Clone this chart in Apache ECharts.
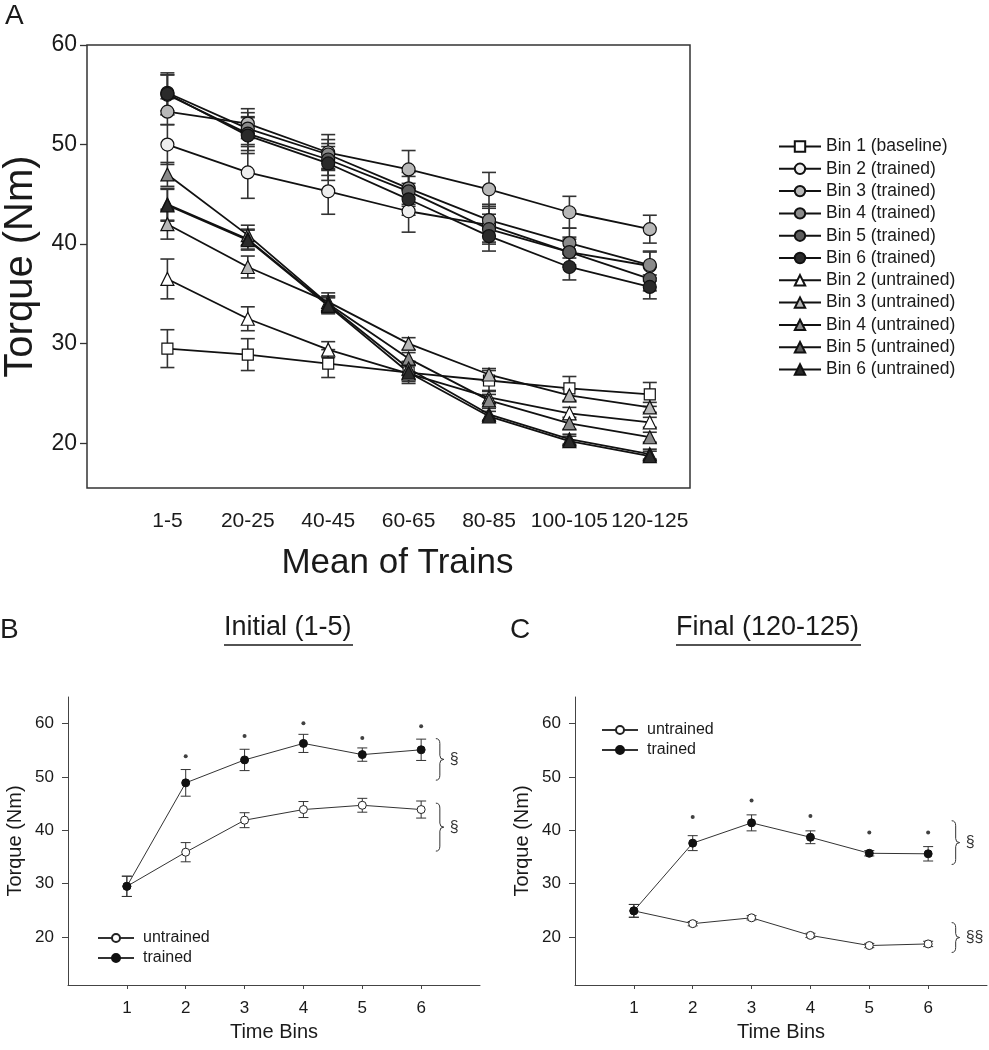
<!DOCTYPE html>
<html><head><meta charset="utf-8">
<script src="https://cdn.jsdelivr.net/npm/echarts@6/dist/echarts.min.js"></script>
<style>html,body{margin:0;padding:0;background:#fff}#c{width:989px;height:1050px}</style>
</head><body><div id="c"></div>
<script>
// ---------- Panel A data ----------
const trainLabels = ['1-5','20-25','40-45','60-65','80-85','100-105','120-125'];
const seriesNamesA = ['Bin 1 (baseline)','Bin 2 (trained)','Bin 3 (trained)','Bin 4 (trained)','Bin 5 (trained)','Bin 6 (trained)','Bin 2 (untrained)','Bin 3 (untrained)','Bin 4 (untrained)','Bin 5 (untrained)','Bin 6 (untrained)'];
const bin1Baseline   = [29.5, 28.9, 28.0, 27.1, 26.3, 25.5, 24.9];
const bin2Trained    = [50.0, 47.2, 45.3, 43.3, 41.9, 39.2, 37.8];
const bin3Trained    = [53.3, 52.1, 49.2, 47.5, 45.5, 43.2, 41.5];
const bin4Trained    = [55.2, 51.6, 49.0, 45.6, 42.4, 40.1, 37.9];
const bin5Trained    = [55.0, 51.1, 48.5, 45.3, 41.5, 39.2, 36.5];
const bin6Trained    = [55.1, 50.9, 48.1, 44.5, 40.8, 37.7, 35.7];
const bin2Untrained  = [36.5, 32.5, 29.4, 27.0, 24.6, 23.0, 22.1];
const bin3Untrained  = [42.0, 37.7, 34.2, 30.0, 26.9, 24.8, 23.6];
const bin4Untrained  = [47.0, 40.9, 34.0, 28.5, 24.3, 22.0, 20.6];
const bin5Untrained  = [44.0, 40.5, 33.9, 27.5, 22.9, 20.4, 18.9];
const bin6Untrained  = [43.9, 40.4, 33.8, 27.1, 22.7, 20.2, 18.7];
const bin1BaselineErr  = [1.9, 1.6, 1.4, 1.1, 1.0, 1.2, 1.2];
const bin2TrainedErr   = [2.0, 2.6, 2.3, 2.1, 1.7, 1.5, 1.5];
const bin3TrainedErr   = [1.3, 1.5, 1.8, 1.9, 1.7, 1.6, 1.4];
const bin4TrainedErr   = [1.8, 1.6, 1.5, 1.6, 1.6, 1.5, 1.3];
const bin5TrainedErr   = [2.0, 1.7, 1.6, 1.5, 1.5, 1.3, 1.2];
const bin6TrainedErr   = [2.1, 1.8, 1.7, 1.6, 1.5, 1.3, 1.2];
const bin2UntrainedErr = [2.0, 1.2, 0.8, 0.8, 0.6, 0.6, 0.5];
const bin3UntrainedErr = [1.5, 1.1, 0.9, 0.6, 0.6, 0.6, 0.5];
const bin4UntrainedErr = [1.2, 1.0, 0.8, 0.6, 0.6, 0.6, 0.5];
const bin5UntrainedErr = [1.6, 1.0, 0.8, 0.7, 0.6, 0.5, 0.5];
const bin6UntrainedErr = [1.6, 1.0, 0.8, 0.7, 0.5, 0.5, 0.5];
const torqueTicksA = [20, 30, 40, 50, 60];

// ---------- Panels B & C data ----------
const timeBins = [1, 2, 3, 4, 5, 6];
const initialUntrained    = [29.5, 35.9, 41.9, 43.9, 44.7, 43.9];
const initialUntrainedErr = [1.9, 1.8, 1.4, 1.5, 1.3, 1.6];
const initialTrained      = [29.5, 48.9, 53.2, 56.3, 54.2, 55.1];
const initialTrainedErr   = [1.9, 2.5, 2.0, 1.7, 1.25, 2.0];
const finalUntrained      = [24.9, 22.5, 23.6, 20.3, 18.4, 18.7];
const finalUntrainedErr   = [1.2, 0.4, 0.4, 0.4, 0.4, 0.5];
const finalTrained        = [24.9, 37.6, 41.4, 38.7, 35.7, 35.6];
const finalTrainedErr     = [1.2, 1.4, 1.5, 1.2, 0.5, 1.35];
const starBins            = [2, 3, 4, 5, 6];
const initialStarLevels   = [53.9, 57.7, 60.1, 57.3, 59.5];
const finalStarLevels     = [42.5, 45.6, 42.7, 39.6, 39.6];
const torqueTicksBC = [20, 30, 40, 50, 60];
// brackets: [x position, top value, bottom value]
const initialBrackets = [[6.25, 57.2, 49.4], [6.25, 45.1, 36.1]];
const initialBracketLabels = ['§', '§'];
const finalBrackets   = [[6.40, 41.8, 33.6], [6.40, 22.7, 17.1]];
const finalBracketLabels = ['§', '§§'];

// ---------- styles ----------
const FONT = "'Liberation Sans', Arial, sans-serif";
const INK = '#1a1a1a';
const valuesA = [bin1Baseline, bin2Trained, bin3Trained, bin4Trained, bin5Trained, bin6Trained, bin2Untrained, bin3Untrained, bin4Untrained, bin5Untrained, bin6Untrained];
const errorsA = [bin1BaselineErr, bin2TrainedErr, bin3TrainedErr, bin4TrainedErr, bin5TrainedErr, bin6TrainedErr, bin2UntrainedErr, bin3UntrainedErr, bin4UntrainedErr, bin5UntrainedErr, bin6UntrainedErr];
const styleA = [
  {symbol:'rect', fill:'#ffffff', size:11},
  {symbol:'circle', fill:'#eeeeee', size:13},
  {symbol:'circle', fill:'#b8b8b8', size:13},
  {symbol:'circle', fill:'#8a8a8a', size:13},
  {symbol:'circle', fill:'#5c5c5c', size:13},
  {symbol:'circle', fill:'#2a2a2a', size:13},
  {symbol:'triangle', fill:'#ffffff', size:13},
  {symbol:'triangle', fill:'#b8b8b8', size:13},
  {symbol:'triangle', fill:'#8a8a8a', size:13},
  {symbol:'triangle', fill:'#5c5c5c', size:13},
  {symbol:'triangle', fill:'#2a2a2a', size:13}
];

function errRender(capHalf, color, width) {
  return function (params, api) {
    const x = api.value(0), lo = api.value(1), hi = api.value(2);
    const p1 = api.coord([x, lo]), p2 = api.coord([x, hi]);
    const style = {stroke: color, lineWidth: width, fill: null};
    return {type: 'group', children: [
      {type: 'line', shape: {x1: p1[0], y1: p1[1], x2: p2[0], y2: p2[1]}, style},
      {type: 'line', shape: {x1: p1[0] - capHalf, y1: p1[1], x2: p1[0] + capHalf, y2: p1[1]}, style},
      {type: 'line', shape: {x1: p2[0] - capHalf, y1: p2[1], x2: p2[0] + capHalf, y2: p2[1]}, style}
    ]};
  };
}
function braceRender(labels) {
  return function (params, api) {
    const x = api.value(0), top = api.value(1), bot = api.value(2);
    const t = api.coord([x, top]), b = api.coord([x, bot]);
    const x0 = t[0], y1 = t[1], y2 = b[1], mid = (y1 + y2) / 2;
    const path = `M${x0},${y1} Q${x0+4},${y1} ${x0+4},${y1+5} L${x0+4},${mid-4} Q${x0+4},${mid} ${x0+8},${mid} Q${x0+4},${mid} ${x0+4},${mid+4} L${x0+4},${y2-5} Q${x0+4},${y2} ${x0},${y2}`;
    return {type: 'group', children: [
      {type: 'path', shape: {pathData: path}, style: {stroke: '#333', lineWidth: 1, fill: null}},
      {type: 'text', x: x0 + 14, y: mid, style: {text: labels[params.dataIndex], font: '16px ' + FONT, fill: '#333', textAlign: 'left', textVerticalAlign: 'middle'}}
    ]};
  };
}

const series = [];
// Panel A error bars
valuesA.forEach((vals, i) => {
  series.push({type: 'custom', xAxisIndex: 0, yAxisIndex: 0, silent: true, z: 2,
    renderItem: errRender(7, '#333', 1.6), encode: {x: 0, y: [1, 2]},
    data: vals.map((v, k) => [k, v - errorsA[i][k], v + errorsA[i][k]])});
});
valuesA.forEach((vals, i) => {
  const s = styleA[i];
  series.push({name: seriesNamesA[i], type: 'line', xAxisIndex: 0, yAxisIndex: 0, z: 3,
    symbol: s.symbol, symbolSize: s.size, showAllSymbol: true,
    lineStyle: {color: '#111', width: 1.8},
    itemStyle: {color: s.fill, borderColor: '#111', borderWidth: 1.2},
    data: vals.map((v, k) => [k, v])});
});
// Panels B and C
function panel(idx, untr, untrErr, tr, trErr, stars, brackets, bracketLabels) {
  series.push({type: 'custom', xAxisIndex: idx, yAxisIndex: idx, silent: true, z: 2,
    renderItem: errRender(5, '#333', 1), encode: {x: 0, y: [1, 2]},
    data: untr.map((v, k) => [timeBins[k], v - untrErr[k], v + untrErr[k]])});
  series.push({type: 'custom', xAxisIndex: idx, yAxisIndex: idx, silent: true, z: 2,
    renderItem: errRender(5, '#333', 1), encode: {x: 0, y: [1, 2]},
    data: tr.map((v, k) => [timeBins[k], v - trErr[k], v + trErr[k]])});
  series.push({name: 'untrained', type: 'line', xAxisIndex: idx, yAxisIndex: idx, z: 3,
    symbol: 'circle', symbolSize: 8, lineStyle: {color: '#333', width: 1},
    itemStyle: {color: '#fff', borderColor: '#222', borderWidth: 1},
    data: untr.map((v, k) => [timeBins[k], v])});
  series.push({name: 'trained', type: 'line', xAxisIndex: idx, yAxisIndex: idx, z: 4,
    symbol: 'circle', symbolSize: 8, lineStyle: {color: '#333', width: 1},
    itemStyle: {color: '#111', borderColor: '#111', borderWidth: 1},
    data: tr.map((v, k) => [timeBins[k], v])});
  series.push({type: 'scatter', xAxisIndex: idx, yAxisIndex: idx, silent: true, z: 4,
    symbol: 'circle', symbolSize: 4, itemStyle: {color: '#111'},
    data: stars.map((v, k) => [starBins[k], v])});
  series.push({type: 'custom', xAxisIndex: idx, yAxisIndex: idx, silent: true, z: 4,
    renderItem: braceRender(bracketLabels), encode: {x: 0, y: [1, 2]}, data: brackets});
}
panel(1, initialUntrained, initialUntrainedErr, initialTrained, initialTrainedErr, initialStarLevels, initialBrackets, initialBracketLabels);
panel(2, finalUntrained, finalUntrainedErr, finalTrained, finalTrainedErr, finalStarLevels, finalBrackets, finalBracketLabels);

function bcX(gi) {
  return {gridIndex: gi, type: 'value', min: 0, max: 7, splitLine: {show: false},
    name: 'Time Bins', nameLocation: 'middle', nameGap: 37,
    nameTextStyle: {fontFamily: FONT, fontSize: 20, color: INK},
    axisLine: {show: true, onZero: false, lineStyle: {color: '#444', width: 1}},
    axisTick: {show: true, inside: false, length: 4, customValues: timeBins, lineStyle: {color: '#444'}},
    axisLabel: {customValues: timeBins, fontFamily: FONT, fontSize: 17, color: INK, margin: 15}};
}
function bcY(gi) {
  return {gridIndex: gi, type: 'value', min: 11, max: 65, splitLine: {show: false},
    name: 'Torque (Nm)', nameLocation: 'middle', nameGap: 43,
    nameTextStyle: {fontFamily: FONT, fontSize: 20, color: INK},
    axisLine: {show: true, onZero: false, lineStyle: {color: '#444', width: 1}},
    axisTick: {show: true, inside: false, length: 6, customValues: torqueTicksBC, lineStyle: {color: '#444'}},
    axisLabel: {customValues: torqueTicksBC, fontFamily: FONT, fontSize: 17, color: INK, margin: 14}};
}

const option = {
  animation: false,
  backgroundColor: '#fff',
  textStyle: {fontFamily: FONT},
  grid: [
    {left: 87, top: 45, width: 603, height: 443, show: true, borderColor: '#333', borderWidth: 1.5, backgroundColor: 'transparent', containLabel: false, outerBoundsMode: 'none'},
    {left: 68, top: 697, width: 412, height: 288, containLabel: false, outerBoundsMode: 'none'},
    {left: 575, top: 697, width: 412, height: 288, containLabel: false, outerBoundsMode: 'none'}
  ],
  xAxis: [
    {gridIndex: 0, type: 'value', min: -1, max: 6.5, splitLine: {show: false},
      name: 'Mean of Trains', nameLocation: 'middle', nameGap: 58,
      nameTextStyle: {fontFamily: FONT, fontSize: 35, color: INK, padding: [0, 0, 0, 18]},
      axisLine: {show: false, onZero: false}, axisTick: {show: false},
      axisLabel: {customValues: [0, 1, 2, 3, 4, 5, 6], formatter: v => trainLabels[v], fontFamily: FONT, fontSize: 21, color: INK, margin: 23}},
    bcX(1), bcX(2)
  ],
  yAxis: [
    {gridIndex: 0, type: 'value', min: 15.5, max: 60, splitLine: {show: false},
      name: 'Torque (Nm)', nameLocation: 'middle', nameGap: 41,
      nameTextStyle: {fontFamily: FONT, fontSize: 40, color: INK},
      axisLine: {show: false, onZero: false},
      axisTick: {show: true, inside: false, length: 7, customValues: torqueTicksA, lineStyle: {color: '#333', width: 1.3}},
      axisLabel: {customValues: torqueTicksA, fontFamily: FONT, fontSize: 23, color: INK, margin: 10}},
    bcY(1), bcY(2)
  ],
  legend: [
    {data: seriesNamesA, orient: 'vertical', left: 773, top: 132.5, itemWidth: 42, itemHeight: 13, itemGap: 4.3,
      textStyle: {fontFamily: FONT, fontSize: 17.5, color: INK}, selectedMode: false},
    {data: ['untrained', 'trained'], orient: 'vertical', left: 92, top: 925, itemWidth: 36, itemHeight: 10, itemGap: 4,
      textStyle: {fontFamily: FONT, fontSize: 16, color: INK, padding: [0, 0, 0, 4]}, selectedMode: false},
    {data: ['untrained', 'trained'], orient: 'vertical', left: 596, top: 717, itemWidth: 36, itemHeight: 10, itemGap: 4,
      textStyle: {fontFamily: FONT, fontSize: 16, color: INK, padding: [0, 0, 0, 4]}, selectedMode: false}
  ],
  graphic: [
    {type: 'text', left: 5, top: 2, style: {text: 'A', font: '28px ' + FONT, fill: INK}},
    {type: 'text', left: 0, top: 616, style: {text: 'B', font: '28px ' + FONT, fill: INK}},
    {type: 'text', left: 510, top: 616, style: {text: 'C', font: '28px ' + FONT, fill: INK}},
    {type: 'text', left: 224, top: 614, style: {text: 'Initial (1-5)', font: '27px ' + FONT, fill: INK}},
    {type: 'line', shape: {x1: 224, y1: 645, x2: 353, y2: 645}, style: {stroke: INK, lineWidth: 1.3}},
    {type: 'text', left: 676, top: 614, style: {text: 'Final (120-125)', font: '27px ' + FONT, fill: INK}},
    {type: 'line', shape: {x1: 676, y1: 645, x2: 861, y2: 645}, style: {stroke: INK, lineWidth: 1.3}}
  ],
  series: series
};
const chart = echarts.init(document.getElementById('c'), null, {renderer: 'canvas'});
chart.setOption(option);
</script>
</body></html>
